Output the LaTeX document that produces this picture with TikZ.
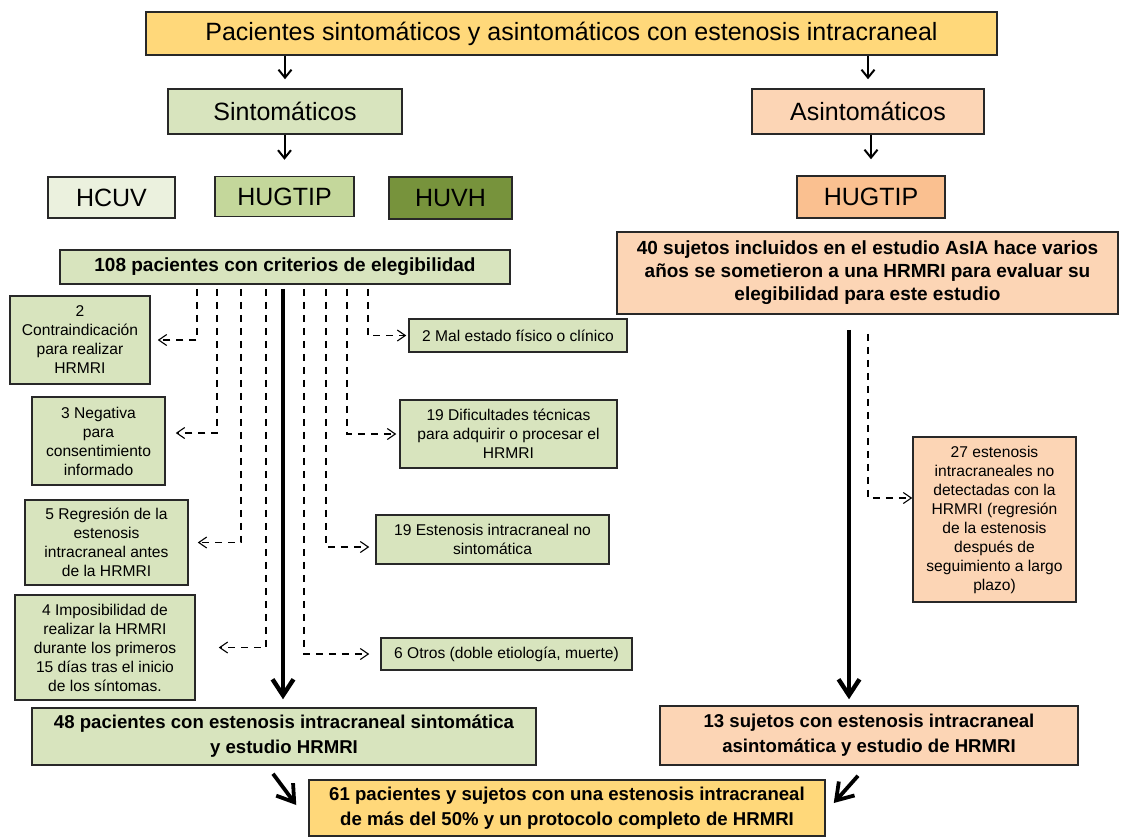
\documentclass[tikz,border=0pt]{standalone}
\usepackage{fontspec}
\setmainfont{Liberation Sans}
\usepackage{tikz}
\usetikzlibrary{arrows.meta,positioning}
\definecolor{flowYellow}{RGB}{255,216,122}
\definecolor{flowGreen}{RGB}{216,228,190}
\definecolor{flowGreenPale}{RGB}{235,241,222}
\definecolor{flowGreenMid}{RGB}{196,215,155}
\definecolor{flowOlive}{RGB}{119,147,60}
\definecolor{flowPeach}{RGB}{252,213,181}
\definecolor{flowOrange}{RGB}{250,192,144}
\definecolor{flowEdge}{RGB}{40,40,40}

\begin{document}
\begin{tikzpicture}[x=0.5pt,y=-0.5pt,
  box/.style={draw=flowEdge, line width=0.75pt, inner sep=1pt, align=center},
  bigtxt/.style={font=\fontsize{12.5}{15}\selectfont},
  boldtxt/.style={font=\fontsize{9.5}{11.5}\selectfont\bfseries},
  bottomtxt/.style={font=\fontsize{9.3}{12.5}\selectfont\bfseries},
  smalltxt/.style={font=\fontsize{7.8}{9.5}\selectfont},
  smallarrow/.style={line width=1pt, -{Straight Barb[length=4pt,width=6.5pt]}},
  bigarrow/.style={line width=2.2pt, -{Straight Barb[length=8pt,width=10.5pt]}},
  dasharrow/.style={line width=0.55pt, dash pattern=on 3.5pt off 3pt,
    -{Straight Barb[length=4pt,width=5.5pt]}}]
\fill[white] (0,0) rectangle (1123,837);
\useasboundingbox (0,0) rectangle (1123,837);

\node[box, bigtxt, fill=flowYellow, minimum width=425.5pt, minimum height=21.5pt] (title) at (571.5,33.5)
  {Pacientes sintomáticos y asintomáticos con estenosis intracraneal};
\node[box, bigtxt, fill=flowGreen, minimum width=117pt, minimum height=22.5pt] (sinto) at (285,111.5) {Sintomáticos};
\node[box, bigtxt, fill=flowPeach, minimum width=116pt, minimum height=22.5pt] (asinto) at (868,111.5) {Asintomáticos};

\node[box, bigtxt, fill=flowGreenPale, minimum width=63.5pt, minimum height=20.5pt] (hcuv) at (111.5,197.5) {HCUV};
\node[box, bigtxt, fill=flowGreenMid, minimum width=69.5pt, minimum height=20pt] (hugtipA) at (284.5,196.5) {HUGTIP};
\node[box, bigtxt, fill=flowOlive, minimum width=61.5pt, minimum height=21pt] (huvh) at (450.5,198) {HUVH};
\node[box, bigtxt, fill=flowOrange, minimum width=74pt, minimum height=21pt] (hugtipB) at (871,197) {HUGTIP};

\node[box, boldtxt, fill=flowGreen, minimum width=225pt, minimum height=17pt] (elig) at (285,267)
  {108 pacientes con criterios de elegibilidad};
\node[box, boldtxt, fill=flowPeach, minimum width=250.5pt, minimum height=41pt] (asia) at (867.5,273)
  {40 sujetos incluidos en el estudio AsIA hace varios\\años se sometieron a una HRMRI para evaluar su\\elegibilidad para este estudio};

\node[box, smalltxt, fill=flowGreen, minimum width=70pt, minimum height=44pt] (contra) at (80,340)
  {2\\Contraindicación\\para realizar\\HRMRI};
\node[box, smalltxt, fill=flowGreen, minimum width=66.5pt, minimum height=44pt] (negativa) at (98.5,441)
  {3 Negativa\\para\\consentimiento\\informado};
\node[box, smalltxt, fill=flowGreen, minimum width=81.5pt, minimum height=42.5pt] (regresion) at (106.5,542.5)
  {5 Regresión de la\\estenosis\\intracraneal antes\\de la HRMRI};
\node[box, smalltxt, fill=flowGreen, minimum width=90pt, minimum height=52.5pt] (imposib) at (105,647.5)
  {4 Imposibilidad de\\realizar la HRMRI\\durante los primeros\\15 días tras el inicio\\de los síntomas.};

\node[box, smalltxt, fill=flowGreen, minimum width=109pt, minimum height=16.5pt] (malestado) at (518,335.5)
  {2 Mal estado físico o clínico};
\node[box, smalltxt, fill=flowGreen, minimum width=108.5pt, minimum height=34pt] (dificult) at (508.5,434)
  {19 Dificultades técnicas\\para adquirir o procesar el\\HRMRI};
\node[box, smalltxt, fill=flowGreen, minimum width=116.5pt, minimum height=24.5pt] (nosinto) at (492.5,539.5)
  {19 Estenosis intracraneal no\\sintomática};
\node[box, smalltxt, fill=flowGreen, minimum width=125.5pt, minimum height=16pt] (otros) at (506.5,654)
  {6 Otros (doble etiología, muerte)};

\node[box, smalltxt, fill=flowPeach, minimum width=81.5pt, minimum height=82.5pt] (nodetect) at (994.5,519.5)
  {27 estenosis\\intracraneales no\\detectadas con la\\HRMRI (regresión\\de la estenosis\\después de\\seguimiento a largo\\plazo)};

\node[box, bottomtxt, fill=flowGreen, minimum width=252pt, minimum height=28.5pt] (sint48) at (284,736.5)
  {48 pacientes con estenosis intracraneal sintomática\\y estudio HRMRI};
\node[box, bottomtxt, fill=flowPeach, minimum width=209pt, minimum height=29.5pt] (asint13) at (869,735.5)
  {13 sujetos con estenosis intracraneal\\asintomática y estudio de HRMRI};
\node[box, bottomtxt, fill=flowYellow, minimum width=258pt, minimum height=28pt] (final61) at (567,808)
  {61 pacientes y sujetos con una estenosis intracraneal\\de más del 50\% y un protocolo completo de HRMRI};

\coordinate (c1) at (197,0);
\coordinate (c2) at (217,0);
\coordinate (c3) at (241,0);
\coordinate (c4) at (266,0);
\coordinate (cm) at (283,0);
\coordinate (c5) at (304,0);
\coordinate (c6) at (326,0);
\coordinate (c7) at (347,0);
\coordinate (c8) at (368,0);
\coordinate (cr) at (849,0);
\coordinate (cd) at (868,0);

\draw[smallarrow, shorten >=4.5pt] (title.south -| sinto.north) -- (sinto.north);
\draw[smallarrow, shorten >=4.5pt] (title.south -| asinto.north) -- (asinto.north);
\draw[smallarrow, shorten >=8pt] (sinto.south -| hugtipA.north) -- (hugtipA.north);
\draw[smallarrow, shorten >=8pt] (asinto.south -| hugtipB.north) -- (hugtipB.north);

\draw[dasharrow, shorten <=2pt, shorten >=3.5pt] (elig.south -| c1) |- (contra.east);
\draw[dasharrow, shorten <=2pt, shorten >=5pt] (elig.south -| c2) |- ([yshift=4pt]negativa.east);
\draw[dasharrow, shorten <=2pt, shorten >=4.5pt] (elig.south -| c3) |- (regresion.east);
\draw[dasharrow, shorten <=2pt, shorten >=11.5pt] (elig.south -| c4) |- (imposib.east);
\draw[dasharrow, shorten <=2pt, shorten >=5.5pt] (elig.south -| c5) |- (otros.west);
\draw[dasharrow, shorten <=2pt, shorten >=3pt] (elig.south -| c6) |- ([yshift=-3.75pt]nosinto.west);
\draw[dasharrow, shorten <=2pt, shorten >=1.5pt] (elig.south -| c7) |- (dificult.west);
\draw[dasharrow, shorten <=2pt, shorten >=1pt] (elig.south -| c8) |- (malestado.west);
\draw[dasharrow, shorten <=9.5pt] (asia.south -| cd) |- ([yshift=10.75pt]nodetect.west);

\draw[bigarrow, shorten <=2pt, shorten >=4pt] (elig.south -| cm) -- (sint48.north -| cm);
\draw[bigarrow, shorten <=7.5pt, shorten >=3pt] (asia.south -| cr) -- (asint13.north -| cr);

\draw[bigarrow, line width=1.9pt] ([xshift=-5.5pt,yshift=-4pt]sint48.south) -- ([xshift=-6pt,yshift=1.5pt]final61.west);
\draw[bigarrow, line width=1.9pt] ([xshift=-5.5pt,yshift=-5pt]asint13.south) -- ([xshift=4pt,yshift=2.5pt]final61.east);
\end{tikzpicture}
\end{document}
